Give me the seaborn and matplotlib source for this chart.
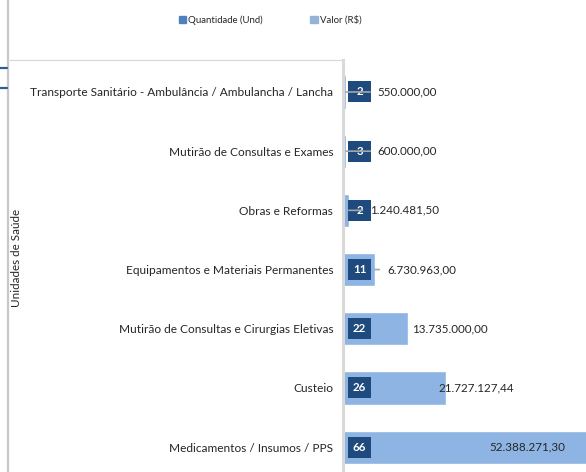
import matplotlib
matplotlib.use("Agg")
import matplotlib.pyplot as plt
import matplotlib.patches as mpatches
import matplotlib.lines as mlines
import seaborn as sns
import pandas as pd

categories = [
    "Transporte Sanitário - Ambulância / Ambulancha / Lancha",
    "Mutirão de Consultas e Exames",
    "Obras e Reformas",
    "Equipamentos e Materiais Permanentes",
    "Mutirão de Consultas e Cirurgias Eletivas",
    "Custeio",
    "Medicamentos / Insumos / PPS",
]
quantidade = [2, 3, 2, 11, 22, 26, 66]
valor = [550000.00, 600000.00, 1240481.50, 6730963.00, 13735000.00, 21727127.44, 52388271.30]
series_names = ["Quantidade (Und)", "Valor (R$)"]
axis_title = "Unidades de Saúde"

# label placement (pixels from bar end) and leader-line flags: styling only
label_offsets = [32, 32, 21, 12, 4, -8, -102]
leader = [True, True, True, True, False, False, False]

LIGHT = "#8EB4E3"
DARK = "#1F4A7D"
LEG_DARK = "#4F81BD"
LEG_LIGHT = "#95B3D7"
TXT = "#262626"

sns.set_theme(style="white")
plt.rcParams["font.family"] = ["Lato", "DejaVu Sans"]

W, H = 586, 472
fig = plt.figure(figsize=(W / 100, H / 100), dpi=100)
ax = fig.add_axes([343 / W, 0, 1 - 343 / W, 1 - 60 / H])

df = pd.DataFrame({"Categoria": categories, "Valor": valor, "Quantidade": quantidade})
sns.barplot(data=df, y="Categoria", x="Valor", color=LIGHT, saturation=1,
            width=0.56, orient="h", ax=ax, zorder=2)
sns.barplot(data=df, y="Categoria", x="Quantidade", color=DARK, saturation=1,
            width=0.36, orient="h", ax=ax, zorder=2)

ax.set_xlim(0, 51.25e6)
ax.set_ylim(6.42, -0.54)
ax.set_xlabel("")
ax.set_ylabel("")
ax.set_xticks([])
for s in ["top", "right", "bottom"]:
    ax.spines[s].set_visible(False)
ax.spines["left"].set_color("#D9D9D9")
ax.spines["left"].set_linewidth(2.2)
ax.tick_params(axis="y", length=0, pad=7, labelsize=8.6, labelcolor=TXT)


def fmt_br(v):
    s = f"{v:,.2f}"
    return s.replace(",", "X").replace(".", ",").replace("X", ".")


ytrans = ax.get_yaxis_transform()
AXW = W - 343
box_x0 = 5 / AXW
box_w = 23 / AXW
box_h = 0.355
for i, (q, v) in enumerate(zip(quantidade, valor)):
    rect = mpatches.Rectangle((box_x0, i - box_h / 2), box_w, box_h,
                              transform=ytrans, facecolor=DARK, edgecolor="none", zorder=3)
    ax.add_patch(rect)
    ax.text(box_x0 + box_w / 2, i, str(q), transform=ytrans, ha="center", va="center",
            color="white", fontsize=8.3, fontweight="bold", zorder=4)
    kw = {}
    if leader[i]:
        kw["arrowprops"] = dict(arrowstyle="-", color="#A6A6A6", lw=1.2,
                                shrinkA=3, shrinkB=0)
    ax.annotate(fmt_br(v), xy=(v, i), xytext=(label_offsets[i], 0),
                textcoords="offset pixels", ha="left", va="center",
                fontsize=8.4, color=TXT, zorder=5, annotation_clip=False, **kw)

# outer frame pieces
fig.add_artist(mlines.Line2D([7.5 / W, 7.5 / W], [0, 1], color="#C8C8C8", lw=1.6))
fig.add_artist(mlines.Line2D([7.5 / W, 343 / W], [1 - 60.5 / H, 1 - 60.5 / H],
                             color="#D9D9D9", lw=0.9))
for yy in (68, 88):
    fig.add_artist(mlines.Line2D([0, 6.5 / W], [1 - yy / H, 1 - yy / H],
                                 color="#2E5C94", lw=1.6))

fig.text(17 / W, 1 - 258 / H, axis_title, rotation=90, ha="center", va="center",
         fontsize=8.4, color=TXT)

handles = [mpatches.Patch(color=LEG_DARK, label=series_names[0]),
           mpatches.Patch(color=LEG_LIGHT, label=series_names[1])]
fig.legend(handles=handles, loc="center", bbox_to_anchor=(270 / W, 1 - 20 / H),
           ncol=2, frameon=False, fontsize=6.9, handlelength=0.75, handleheight=0.75,
           handletextpad=0.2, columnspacing=5.0, labelcolor=TXT)

fig.savefig("out.png", dpi=100)
